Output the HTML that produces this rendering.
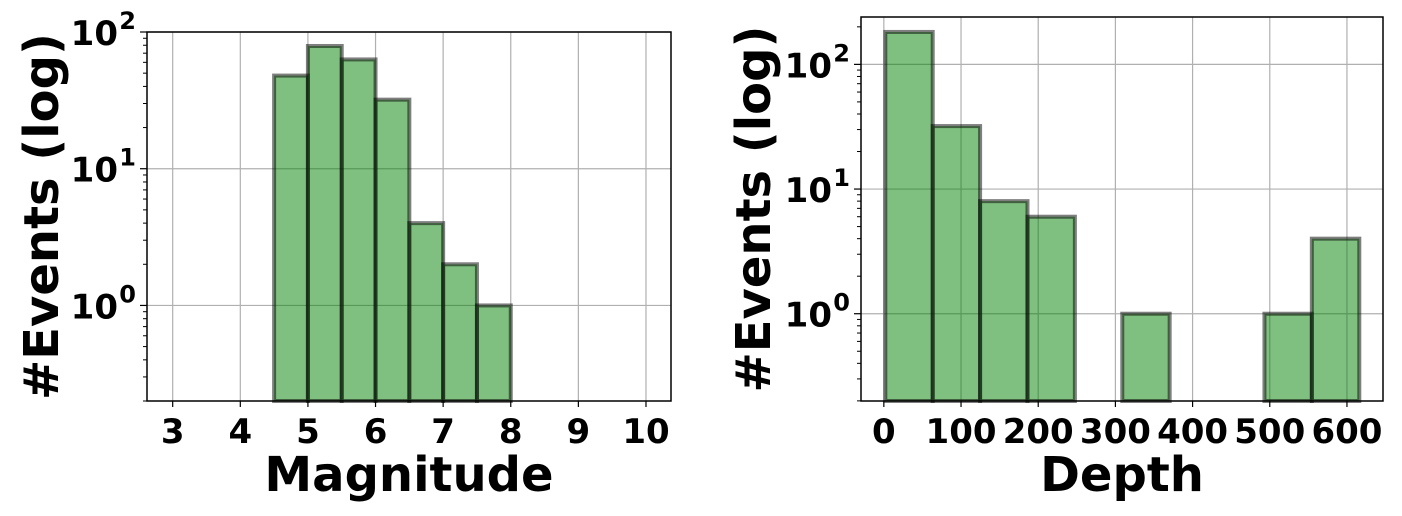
<!DOCTYPE html>
<html><head><meta charset="utf-8"><style>
html,body{margin:0;padding:0;background:#fff}
svg{display:block}
text{font-family:"DejaVu Sans","Liberation Sans",sans-serif;font-weight:bold;fill:#000}
</style></head><body>
<svg id="chart" width="1402" height="516" viewBox="0 0 1402 516"></svg>
<script>
const magEdges = [4.5,5,5.5,6,6.5,7,7.5,8];
const magCounts = [48,79,63,32,4,2,1];
const magTicks = [3,4,5,6,7,8,9,10];
const depthEdges = [1.9,63.3,124.7,186.1,247.5,308.9,370.3,431.7,493.1,554.5,616];
const depthCounts = [182,32,8,6,0,1,0,0,1,4];
const depthTicks = [0,100,200,300,400,500,600];
const logTicks = [0,1,2];

const NS='http://www.w3.org/2000/svg';
const svg=document.getElementById('chart');
function el(tag,attrs,parent){const e=document.createElementNS(NS,tag);for(const k in attrs)e.setAttribute(k,attrs[k]);(parent||svg).appendChild(e);return e;}

function panel(cfg){
  const g=el('g',{});
  
  
  const X=v=>cfg.L+(v-cfg.xmin)/(cfg.xmax-cfg.xmin)*(cfg.R-cfg.L);
  const Y=v=>cfg.B-(Math.log10(v)-cfg.lmin)/(cfg.lmax-cfg.lmin)*(cfg.B-cfg.T);
  cfg.xticks.forEach(t=>{const l=el('line',{x1:X(t),x2:X(t),y1:cfg.T,y2:cfg.B,stroke:'#b0b0b0','stroke-width':1.2},g);
    });
  logTicks.forEach(p=>{const v=Math.pow(10,p);if(Y(v)<cfg.T-1)return;const l=el('line',{x1:cfg.L,x2:cfg.R,y1:Y(v),y2:Y(v),stroke:'#b0b0b0','stroke-width':1.2},g);
    });
  cfg.counts.forEach((c,i)=>{if(c<=0)return;
    const x0=X(cfg.edges[i]),x1=X(cfg.edges[i+1]),y=Y(c);
    const r=el('rect',{x:x0,y:y,width:x1-x0,height:cfg.B-y,fill:'rgba(0,128,0,0.5)',stroke:'rgba(0,0,0,0.5)','stroke-width':4},g);
    });
  for(let p=-1;p<3;p++)for(let m=2;m<10;m++){const v=m*Math.pow(10,p);const y=Y(v);if(y<cfg.T||y>cfg.B)continue;
    el('line',{x1:cfg.L-4,x2:cfg.L,y1:y,y2:y,stroke:'#000','stroke-width':1},g);}
  const f=el('rect',{x:cfg.L,y:cfg.T,width:cfg.R-cfg.L,height:cfg.B-cfg.T,fill:'none',stroke:'#000','stroke-width':1.5},g);
  
  cfg.xticks.forEach(t=>{el('line',{x1:X(t),x2:X(t),y1:cfg.B,y2:cfg.B+6,stroke:'#000','stroke-width':1.2},g);
    const tx=el('text',{x:X(t),y:cfg.B+42,'text-anchor':'middle','font-size':34},g);tx.textContent=t;
    });
  logTicks.forEach(p=>{const y=Y(Math.pow(10,p));if(y<cfg.T-1)return;
    el('line',{x1:cfg.L-7,x2:cfg.L,y1:y,y2:y,stroke:'#000','stroke-width':1.2},g);
    const tx=el('text',{x:cfg.L-29,y:y+13,'text-anchor':'end','font-size':34},g);tx.textContent='10';
    
    const sp=el('text',{x:cfg.L-11,y:y-3,'text-anchor':'end','font-size':24},g);sp.textContent=p;});
  const xl=el('text',{x:(cfg.L+cfg.R)/2,y:491,'text-anchor':'middle','font-size':48},g);xl.textContent=cfg.xlabel;
  
  const yl=el('text',{x:0,y:0,'text-anchor':'middle','font-size':48,transform:`translate(${cfg.ylx},${(cfg.T+cfg.B)/2}) rotate(-90)`},g);yl.textContent='#Events (log)';
  
}
panel({name:'magnitude-panel',L:147,R:671,T:32,B:401,xmin:2.62,xmax:10.37,lmin:Math.log10(0.2),lmax:2,
  edges:magEdges,counts:magCounts,xticks:magTicks,xlabel:'Magnitude',ylx:58});
panel({name:'depth-panel',L:861,R:1383,T:17,B:401,xmin:-29.6,xmax:646.7,lmin:-0.7,lmax:2.38,
  edges:depthEdges,counts:depthCounts,xticks:depthTicks,xlabel:'Depth',ylx:770});
</script>
</body></html>
